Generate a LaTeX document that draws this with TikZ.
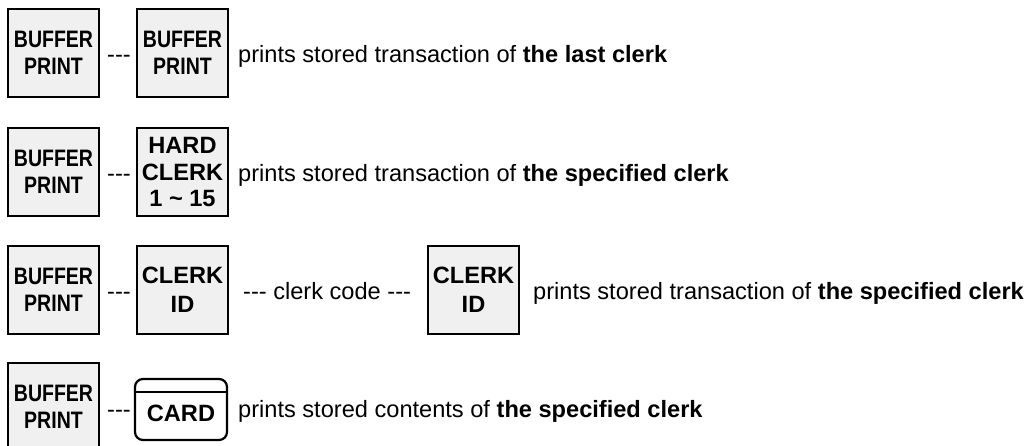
\documentclass[tikz,border=0pt]{standalone}
\usepackage{fontspec}
\setmainfont{Liberation Sans}[Ligatures=TeXOff]
\newfontfamily\narrowfont{Liberation Sans}[FakeStretch=0.82, Ligatures=TeXOff]
\begin{document}
\begin{tikzpicture}[x=1pt,y=-1pt,
  key/.style={draw=black, line width=2.2pt, fill=keygray, minimum width=91pt, minimum height=88pt,
    inner sep=0pt, align=center, font=\fontsize{23.6}{27}\selectfont\bfseries},
  narrowkey/.style={key, font=\fontsize{23.8}{27.5}\selectfont\narrowfont\bfseries},
  txt/.style={anchor=base west, inner sep=0pt, font=\fontsize{23.6}{27}\selectfont},
  cardbox/.style={draw=black, line width=2.2pt, fill=white, rounded corners=8pt,
    minimum width=92pt, minimum height=61pt, inner sep=0pt}
]
\definecolor{keygray}{HTML}{F0F0F0}
\useasboundingbox (0,0) rectangle (1033,446);
\clip (0,0) rectangle (1033,446);
% Row 1
\node[narrowkey] (a1) at (53.5,53) {BUFFER\\PRINT};
\node[txt] (d1) at (107,63) {---};
\node[narrowkey] (b1) at (182.5,53) {BUFFER\\PRINT};
\node[txt] (t1) at (238,63) {prints stored transaction of \textbf{the last clerk}};
% Row 2
\node[narrowkey] (a2) at (53.5,172) {BUFFER\\PRINT};
\node[txt] (d2) at (107,182) {---};
\node[key, font=\fontsize{23.6}{26.5}\selectfont\bfseries] (b2) at (182.5,172) {HARD\\CLERK\\1 \textasciitilde{} 15};
\node[txt] (t2) at (238,182) {prints stored transaction of \textbf{the specified clerk}};
% Row 3
\node[narrowkey] (a3) at (53.5,290) {BUFFER\\PRINT};
\node[txt] (d3) at (107,299) {---};
\node[key, font=\fontsize{23.6}{29}\selectfont\bfseries] (b3) at (182.5,290) {CLERK\\ID};
\node[txt] (c3) at (243,299) {--- clerk code ---};
\node[key, font=\fontsize{23.6}{29}\selectfont\bfseries] (e3) at (473.5,290) {CLERK\\ID};
\node[txt] (t3) at (533,299) {prints stored transaction of \textbf{the specified clerk}};
% Row 4
\node[narrowkey] (a4) at (53.5,407) {BUFFER\\PRINT};
\node[txt] (d4) at (107,417) {---};
\node[cardbox] (card) at (181,409.5) {};
\draw[line width=2.2pt] ([yshift=-14pt]card.north west) -- ([yshift=-14pt]card.north east);
\node[anchor=base, inner sep=0pt, font=\fontsize{23.6}{27}\selectfont\bfseries] (cardlbl) at (181,421) {CARD};
\node[txt] (t4) at (238,417) {prints stored contents of \textbf{the specified clerk}};
\end{tikzpicture}
\end{document}
